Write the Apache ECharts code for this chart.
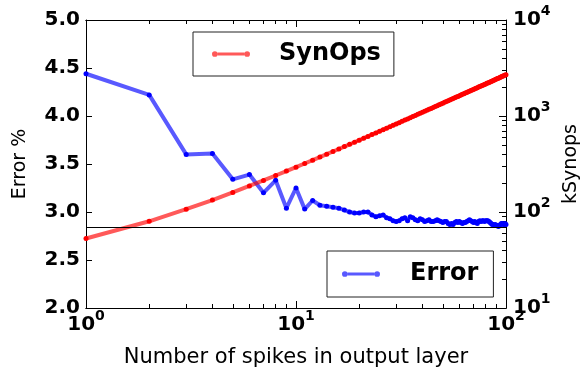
<!DOCTYPE html>
<html>
<head>
    <meta charset="UTF-8">
    <title>Error vs SynOps</title>
    <script src="https://cdn.jsdelivr.net/npm/echarts@6/dist/echarts.min.js"></script>
</head>
<body style="margin:0">
<div id="main" style="width: 580px;height:372px;"></div>
<script>
    // number of spikes in output layer (1..100)
    var spikes = [];
    for (var i = 1; i <= 100; i++) spikes.push(i);

    // error %
    var errorVals = [
        4.44, 4.22, 3.60, 3.61, 3.34, 3.39, 3.20, 3.33, 3.04, 3.25,
        3.03, 3.12, 3.07, 3.06, 3.05, 3.04, 3.02, 3.00, 2.99, 2.99,
        3.00, 3.00, 2.97, 2.95, 2.96, 2.97, 2.94, 2.93, 2.91, 2.90,
        2.91, 2.93, 2.94, 2.91, 2.95, 2.94, 2.92, 2.91, 2.93, 2.92,
        2.90, 2.91, 2.92, 2.90, 2.90, 2.91, 2.92, 2.91, 2.90, 2.89,
        2.90, 2.90, 2.88, 2.87, 2.88, 2.87, 2.89, 2.90, 2.89, 2.90,
        2.89, 2.88, 2.89, 2.89, 2.90, 2.91, 2.92, 2.91, 2.90, 2.89,
        2.90, 2.89, 2.88, 2.90, 2.91, 2.90, 2.91, 2.91, 2.90, 2.91,
        2.91, 2.91, 2.90, 2.89, 2.88, 2.87, 2.87, 2.86, 2.87, 2.86,
        2.86, 2.85, 2.86, 2.87, 2.88, 2.88, 2.87, 2.87, 2.88, 2.87
    ];

    // kSynops
    var synopsVals = [
        53, 80, 107, 133, 160, 187, 213, 240, 267, 293,
        320, 347, 373, 400, 427, 453, 480, 507, 533, 560,
        587, 613, 640, 667, 693, 720, 747, 773, 800, 827,
        853, 880, 907, 933, 960, 987, 1013, 1040, 1067, 1093,
        1120, 1147, 1173, 1200, 1227, 1253, 1280, 1307, 1333, 1360,
        1387, 1413, 1440, 1467, 1493, 1520, 1547, 1573, 1600, 1627,
        1653, 1680, 1707, 1733, 1760, 1787, 1813, 1840, 1867, 1893,
        1920, 1947, 1973, 2000, 2027, 2053, 2080, 2107, 2133, 2160,
        2187, 2213, 2240, 2267, 2293, 2320, 2347, 2373, 2400, 2427,
        2453, 2480, 2507, 2533, 2560, 2587, 2613, 2640, 2667, 2693
    ];

    var errorLine = 2.84;

    var xMajor = [1, 10, 100];
    var xMinor = [2, 3, 4, 5, 6, 7, 8, 9, 20, 30, 40, 50, 60, 70, 80, 90];
    var rMajor = [10, 100, 1000, 10000];
    var rMinor = [20, 30, 40, 50, 60, 70, 80, 90, 200, 300, 400, 500, 600, 700, 800, 900,
        2000, 3000, 4000, 5000, 6000, 7000, 8000, 9000];

    var FONT = 'DejaVu Sans';
    var powRich = {
        b: {fontFamily: FONT, fontWeight: 'bold', fontSize: 20, lineHeight: 20, color: '#000', verticalAlign: 'bottom'},
        s: {fontFamily: FONT, fontWeight: 'bold', fontSize: 14, lineHeight: 14, color: '#000', verticalAlign: 'bottom', padding: [0, 0, 12, 0]}
    };
    function powLabel(v) {
        return '{b|10}{s|' + Math.round(Math.log10(v)) + '}';
    }

    var black = {color: '#000', width: 1};
    var legendIcon = 'path://M6,2.5H34V5.5H6Z M0,4A3,3,0,1,1,6,4A3,3,0,1,1,0,4Z M34,4A3,3,0,1,1,40,4A3,3,0,1,1,34,4Z';

    function pair(xs, ys) {
        return xs.map(function (x, i) { return [x, ys[i]]; });
    }

    function tickAxis(pos, vals, len) {
        return {
            type: 'log', logBase: 10, min: 1, max: 100, position: pos,
            axisLine: {show: true, lineStyle: black},
            axisTick: {show: true, inside: true, length: len, customValues: vals, lineStyle: black},
            axisLabel: {show: false}, splitLine: {show: false}
        };
    }

    var myChart = echarts.init(document.getElementById('main'));
    var option = {
        animation: false,
        backgroundColor: '#fff',
        grid: {left: 86, right: 74, top: 20, bottom: 64, containLabel: false, outerBoundsMode: 'none'},
        legend: [{
            data: [{name: 'SynOps', itemStyle: {color: 'rgba(255,0,0,0.65)'}}],
            left: 193, top: 32, orient: 'horizontal',
            icon: legendIcon, itemWidth: 38, itemHeight: 6,
            padding: [10, 13, 10, 19],
            borderColor: '#222', borderWidth: 1, backgroundColor: '#fff',
            textStyle: {fontFamily: FONT, fontWeight: 'bold', fontSize: 24, color: '#000', padding: [0, 0, 0, 24]}
        }, {
            data: [{name: 'Error', itemStyle: {color: 'rgba(0,0,255,0.65)'}}],
            left: 327, top: 251,
            icon: legendIcon, itemWidth: 38, itemHeight: 6,
            padding: [11, 15, 11, 15],
            borderColor: '#222', borderWidth: 1, backgroundColor: '#fff',
            textStyle: {fontFamily: FONT, fontWeight: 'bold', fontSize: 24, color: '#000', padding: [0, 0, 0, 25]}
        }],
        xAxis: [{
            type: 'log', logBase: 10, min: 1, max: 100, position: 'bottom',
            name: 'Number of spikes in output layer', nameLocation: 'middle', nameGap: 39,
            nameTextStyle: {fontFamily: FONT, fontSize: 21, color: '#000'},
            axisLine: {show: true, lineStyle: black},
            axisTick: {show: true, inside: true, length: 7, customValues: xMajor, lineStyle: black},
            axisLabel: {customValues: xMajor, formatter: powLabel, rich: powRich, margin: 7},
            splitLine: {show: false}
        },
            tickAxis('bottom', xMinor, 4),
            tickAxis('top', xMajor, 7),
            tickAxis('top', xMinor, 4)
        ],
        yAxis: [{
            type: 'value', min: 2, max: 5, interval: 0.5, position: 'left',
            name: 'Error %', nameLocation: 'middle', nameGap: 56,
            nameTextStyle: {fontFamily: FONT, fontSize: 19, color: '#000'},
            axisLine: {show: true, lineStyle: black},
            axisTick: {show: true, inside: true, length: 6, lineStyle: black},
            axisLabel: {
                formatter: function (v) { return v.toFixed(1); },
                fontFamily: FONT, fontWeight: 'bold', fontSize: 20, color: '#000', margin: 6
            },
            splitLine: {show: false}
        }, {
            type: 'log', logBase: 10, min: 10, max: 10000, position: 'right',
            name: 'kSynops', nameLocation: 'middle', nameGap: 55,
            nameTextStyle: {fontFamily: FONT, fontSize: 19, color: '#000'},
            axisLine: {show: true, lineStyle: black},
            axisTick: {show: true, inside: true, length: 7, customValues: rMajor, lineStyle: black},
            axisLabel: {customValues: rMajor, formatter: powLabel, rich: powRich, margin: 7},
            splitLine: {show: false}
        }, {
            type: 'log', logBase: 10, min: 10, max: 10000, position: 'right',
            axisLine: {show: false},
            axisTick: {show: true, inside: true, length: 4, customValues: rMinor, lineStyle: black},
            axisLabel: {show: false}, splitLine: {show: false}
        }],
        series: [{
            name: 'Error', type: 'line', xAxisIndex: 0, yAxisIndex: 0, z: 2,
            data: pair(spikes, errorVals),
            symbol: 'circle', symbolSize: 5, showSymbol: true,
            lineStyle: {color: 'rgba(0,0,255,0.65)', width: 4},
            itemStyle: {color: '#0000ff'},
            markLine: {
                silent: true, symbol: 'none', label: {show: false},
                lineStyle: {color: '#000', width: 1, type: 'solid'},
                data: [{yAxis: errorLine}]
            }
        }, {
            name: 'SynOps', type: 'line', xAxisIndex: 0, yAxisIndex: 1, z: 3,
            data: pair(spikes, synopsVals),
            symbol: 'circle', symbolSize: 5, showSymbol: true,
            lineStyle: {color: 'rgba(255,0,0,0.65)', width: 4},
            itemStyle: {color: '#ff0000'}
        }]
    };
    myChart.setOption(option);
</script>
</body>
</html>
